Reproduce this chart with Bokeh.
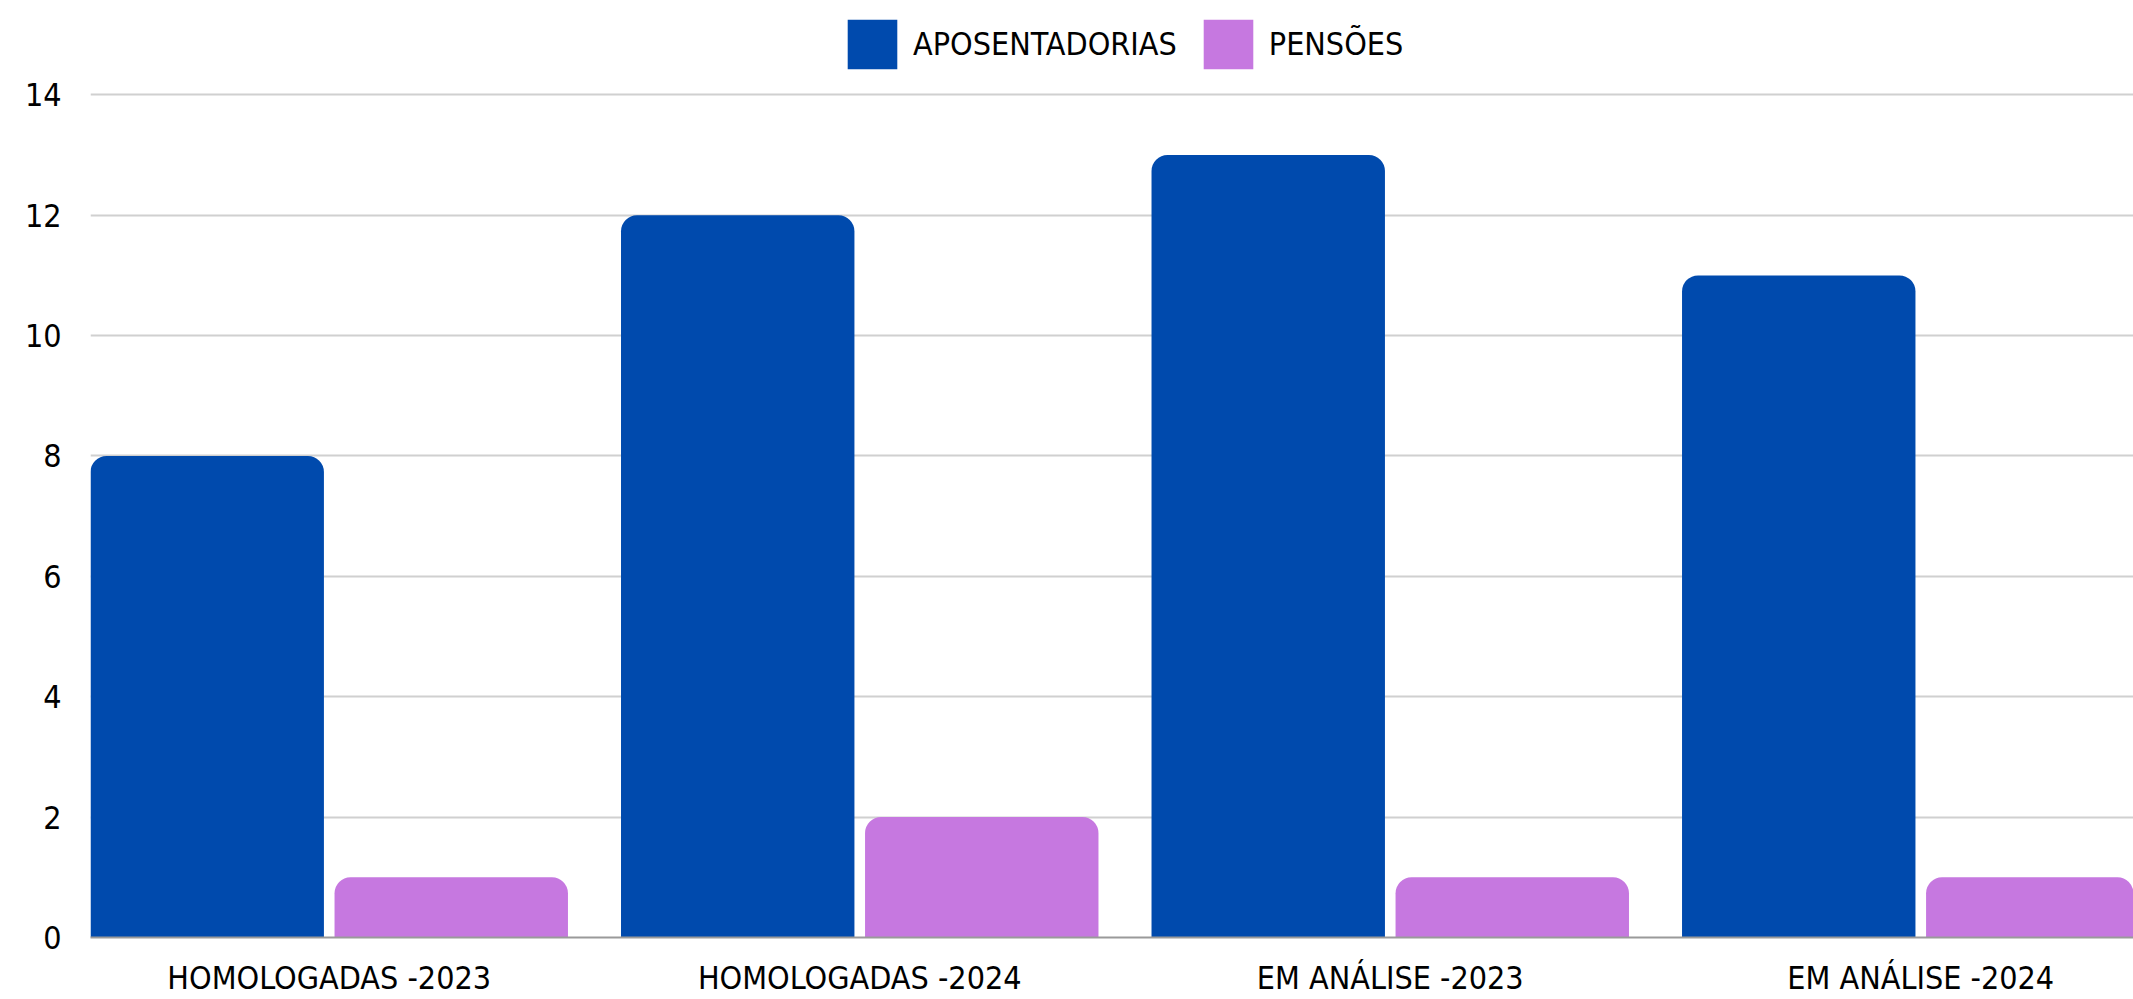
from bokeh.plotting import figure
from bokeh.models import Legend, LegendItem, FixedTicker, Range1d, ColumnDataSource
from bokeh.embed import file_html
from bokeh.resources import INLINE

# ---- data ----
categories = ["HOMOLOGADAS -2023", "HOMOLOGADAS -2024", "EM ANÁLISE -2023", "EM ANÁLISE -2024"]
aposentadorias = [8, 12, 13, 11]
pensoes = [1, 2, 1, 1]
series_names = ["APOSENTADORIAS", "PENSÕES"]
y_ticks = [0, 2, 4, 6, 8, 10, 12, 14]

# ---- styles ----
BLUE = "#004AAD"
PINK = "#C678E0"
FONT = "DejaVu Sans Condensed"
FS = "32px"
BAR_W = 0.44
OFF = 0.23

idx = list(range(len(categories)))
src = ColumnDataSource(dict(
    x_a=[i - OFF for i in idx],
    x_p=[i + OFF for i in idx],
    apos=aposentadorias,
    pens=pensoes,
))

p = figure(width=2133, height=999, output_backend="svg", toolbar_location=None,
           x_range=Range1d(-0.45, 3.401), y_range=Range1d(0, 15.567),
           min_border_left=90, min_border_right=0, min_border_top=0, min_border_bottom=62)
p.outline_line_color = None
p.background_fill_color = "white"
p.border_fill_color = "white"

r1 = p.vbar(x="x_a", top="apos", width=BAR_W, source=src, fill_color=BLUE,
            line_color=None, border_radius=(16, 16, 0, 0))
r2 = p.vbar(x="x_p", top="pens", width=BAR_W, source=src, fill_color=PINK,
            line_color=None, border_radius=(16, 16, 0, 0))

# grid
p.xgrid.grid_line_color = None
p.ygrid.grid_line_color = "#D0D0D0"
p.ygrid.grid_line_width = 2
p.ygrid.ticker = FixedTicker(ticks=y_ticks)

# y axis
p.yaxis.ticker = FixedTicker(ticks=y_ticks)
p.yaxis.axis_line_color = None
p.yaxis.major_tick_line_color = None
p.yaxis.minor_tick_line_color = None
p.yaxis.major_tick_out = 0
p.yaxis.major_label_standoff = 29
p.yaxis.major_label_text_font = FONT
p.yaxis.major_label_text_font_size = FS
p.yaxis.major_label_text_color = "black"

# x axis
p.xaxis.ticker = FixedTicker(ticks=idx)
p.xaxis.major_label_overrides = {i: c for i, c in zip(idx, categories)}
p.xaxis.axis_line_color = "#9A9A9A"
p.xaxis.axis_line_width = 2
p.xaxis.major_tick_line_color = None
p.xaxis.minor_tick_line_color = None
p.xaxis.major_tick_out = 0
p.xaxis.major_label_standoff = 21
p.xaxis.major_label_text_line_height = 1.0
p.xaxis.major_label_text_font = FONT
p.xaxis.major_label_text_font_size = FS
p.xaxis.major_label_text_color = "black"

legend = Legend(items=[LegendItem(label=series_names[0], renderers=[r1]),
                       LegendItem(label=series_names[1], renderers=[r2])],
                orientation="horizontal", location=(751, 862),
                glyph_width=62, glyph_height=62, label_standoff=10, spacing=20,
                padding=0, margin=0, border_line_color=None,
                background_fill_alpha=0,
                label_text_font=FONT, label_text_font_size=FS,
                label_text_color="black")
p.add_layout(legend, "center")

open("out.html", "w").write(file_html(p, INLINE))
